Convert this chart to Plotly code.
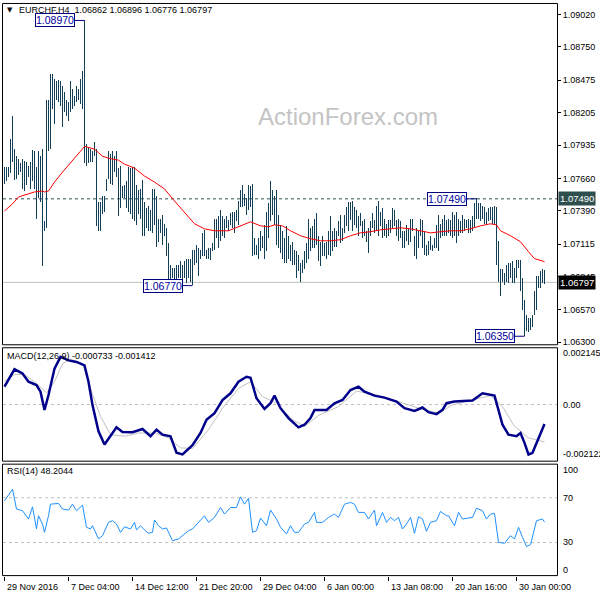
import plotly.graph_objects as go

# ---------------- data ----------------
BASE = 1.0600  # prices below are given in pips above this base
high_pips = [
    175,175,175,198,217,190,184,182,178,182,
    180,179,176,179,189,188,175,188,184,190,
    130,231,231,252,252,248,246,247,246,242,
    237,231,229,246,240,234,242,240,248,255,
    297,194,192,190,188,196,190,146,146,151,
    151,165,188,186,188,184,188,174,176,159,
    160,163,175,174,175,175,160,156,157,164,
    146,141,143,139,157,157,151,132,132,135,
    128,124,112,94,91,91,94,94,97,94,
    97,99,99,99,106,106,110,108,106,120,
    123,106,108,108,112,132,132,134,139,134,
    132,134,131,137,138,138,139,147,156,160,
    153,149,160,159,161,116,110,116,122,118,
    127,138,145,163,156,151,156,135,127,122,
    116,126,118,110,113,106,105,102,95,98,
    105,112,132,124,126,132,137,118,113,118,
    112,113,122,134,122,124,122,130,135,124,
    135,142,146,146,147,142,139,134,137,130,
    132,122,124,130,137,131,143,147,138,141,
    132,128,131,131,141,139,131,132,130,122,
    122,127,124,132,132,118,124,122,132,131,
    122,110,114,118,110,116,127,135,128,132,
    135,131,132,131,138,135,138,132,130,135,
    132,131,132,131,134,145,149,145,145,143,
    142,138,141,142,142,143,142,114,90,90,
    87,94,95,95,97,91,98,98,98,83,
    65,52,50,50,52,72,85,85,89,90,89.6]
low_pips = [
    161,163,167,170,179,164,165,168,171,157,
    155,160,167,157,163,157,132,149,146,93,
    122,124,188,190,223,211,231,229,226,208,
    221,217,213,221,223,226,229,231,227,223,
    178,176,178,179,179,184,126,122,122,136,
    138,155,165,161,160,171,167,134,141,149,
    149,141,138,136,132,130,127,136,132,118,
    118,124,122,122,120,127,109,113,120,110,
    118,101,79,77,83,79,79,83,83,79,
    83,79,83,80,77,94,95,85,99,101,
    101,99,99,98,105,106,116,108,114,118,
    116,124,122,127,124,120,130,127,142,142,
    143,135,139,142,101,102,102,99,105,108,
    99,105,116,130,135,127,110,108,104,99,
    95,95,99,97,94,94,83,89,80,87,
    90,95,99,105,108,108,110,97,93,101,
    101,99,102,101,105,109,109,118,112,114,
    120,126,122,131,122,127,124,118,126,116,
    118,113,104,118,124,120,122,118,126,116,
    118,116,118,120,124,126,118,114,116,108,
    108,114,110,113,122,101,99,108,118,108,
    102,101,102,106,105,108,108,105,116,118,
    118,118,120,118,116,118,112,118,120,120,
    122,124,120,120,122,124,132,132,130,132,
    128,127,130,131,128,127,94,80,68,80,
    77,80,79,83,79,79,83,91,72,56,
    35,39,38,40,42,52,56,75,75,79,77.6]
high = [round(BASE + p / 10000, 5) for p in high_pips]
low = [round(BASE + p / 10000, 5) for p in low_pips]
bar_idx = list(range(len(high)))

ma_idx = [0,4,7,10,15,19,20,22,25,29,34,38,40,45,49,52,57,60,65,70,75,80,85,90,95,
          100,105,112,118,123,128,132,135,139,143,148,153,158,163,168,173,178,183,188,193,
          198,203,208,213,218,223,228,233,238,243,246,248,253,258,262,265,270]
ma_pips = [139.0,144.8,150.6,152.2,154.7,155.5,154.7,155.5,162.9,171.2,180.3,188.5,192.6,190.2,184.4,
           182.7,181.1,177.8,174.5,167.9,162.9,157.2,147.2,138.2,128.3,124.1,122.5,122.5,126.6,129.9,
           126.6,125.8,127.4,126.6,122.5,118.4,115.9,114.2,114.2,115.1,118.4,120.8,121.7,123.3,124.1,
           125.0,124.1,122.5,120.8,121.7,122.5,122.5,124.1,126.6,128.3,127.4,122.5,118.4,113.4,105.1,
           99.4,96.9]
ma_val = [round(BASE + p / 10000, 5) for p in ma_pips]

macd_idx = [0,5,9,12,16,18,20,22,25,28,32,36,40,42,44,47,50,53,56,59,64,69,73,76,79,83,86,89,94,98,
            101,105,109,113,117,121,123,126,130,133,135,138,142,147,150,153,155,161,165,169,173,177,
            180,185,190,196,200,205,209,212,216,219,221,225,230,234,239,243,245,249,252,256,258,260,
            262,264,267,270]
macd_val = [0.000674,0.001332,0.001172,0.000861,0.000734,0.000487,-0.000202,0.000359,0.001359,0.001797,
            0.001669,0.001609,0.001482,0.000861,-0.000015,-0.001011,-0.001512,-0.001198,-0.000861,-0.001037,
            -0.001048,-0.000925,-0.001198,-0.000951,-0.001138,-0.001198,-0.001823,-0.001886,-0.001535,-0.001074,
            -0.000576,-0.000326,0.000172,0.000423,0.000861,0.001048,0.001011,0.000236,-0.000165,0.000049,
            0.000337,-0.000138,-0.000513,-0.000861,-0.000764,-0.000513,-0.000202,-0.000202,0.000049,0.000172,
            0.000546,0.000674,0.000487,0.000337,0.000262,0.000112,-0.000138,-0.000240,-0.000112,-0.000288,
            -0.000363,-0.000202,0.000049,0.000112,0.000135,0.000150,0.000423,0.000359,0.000337,-0.000764,
            -0.001138,-0.001198,-0.001074,-0.001449,-0.001886,-0.001823,-0.001261,-0.000733]
sig_idx = [0,5,10,16,21,25,29,33,39,43,48,53,60,67,75,82,88,94,102,109,117,123,129,136,144,150,157,
           167,176,186,197,207,217,224,234,243,249,255,262,270]
sig_val = [0.000883,0.001134,0.001134,0.000797,0.000450,0.000861,0.001546,0.001707,0.001546,0.000610,
           -0.000449,-0.001138,-0.001198,-0.001074,-0.001074,-0.001261,-0.001636,-0.001662,-0.000951,-0.000138,
           0.000610,0.000861,0.000299,0.000049,-0.000576,-0.000823,-0.000412,-0.000075,0.000509,0.000359,
           0.000112,-0.000138,-0.000326,-0.000015,0.000172,0.000337,-0.000075,-0.000823,-0.001261,-0.001412]

rsi_idx = [0,2,4,6,9,12,14,16,17,19,20,22,23,27,29,32,34,36,39,41,43,44,47,49,52,54,56,58,60,63,
           65,66,68,70,72,74,75,77,79,81,84,87,89,92,94,97,100,102,105,108,110,113,116,118,120,122,
           124,126,128,131,133,136,138,141,143,145,147,150,152,155,156,159,162,165,167,170,173,175,
           177,180,182,185,186,189,191,193,195,197,199,201,203,205,207,209,211,213,216,218,221,222,
           225,227,229,232,234,236,239,241,243,245,247,250,253,255,257,259,261,263,265,266,269,270]
rsi_val = [67.3,72.6,77.6,59.9,58.4,51.0,61.9,42.1,53.9,46.5,39.1,53.9,64.3,64.9,59.9,59.0,64.3,58.4,
           63.4,43.6,42.1,45.0,33.2,36.1,48.0,49.5,46.5,39.1,44.1,42.1,48.0,41.2,45.0,41.2,38.2,39.1,
           50.1,45.0,42.1,43.0,31.7,33.2,36.1,40.6,42.1,48.0,53.9,48.0,52.4,61.3,55.4,61.3,61.3,70.8,
           64.3,69.6,39.1,40.6,51.9,45.0,59.0,51.0,43.6,37.6,45.0,39.1,39.1,46.5,48.0,56.9,48.0,48.0,
           52.4,55.4,52.4,64.3,65.8,64.3,56.9,56.9,51.0,59.0,45.0,56.9,48.0,52.4,49.5,52.4,42.1,46.5,
           52.4,38.2,53.0,51.0,40.0,48.0,49.5,57.8,53.9,53.9,45.0,56.9,51.0,51.9,52.4,60.7,58.4,51.0,
           55.4,56.0,30.2,29.3,36.1,33.2,43.6,34.7,26.4,28.1,43.6,49.5,51.0,48.2044]

date_idx = [0, 32, 64, 96, 128, 160, 192, 224, 256]
date_labels = ["29 Nov 2016", "7 Dec 04:00", "14 Dec 12:00", "21 Dec 20:00", "29 Dec 04:00",
               "6 Jan 00:00", "13 Jan 08:00", "20 Jan 16:00", "30 Jan 00:00"]
price_ticks = [1.09020, 1.08750, 1.08475, 1.08205, 1.07935, 1.07660, 1.07390, 1.07115, 1.06845, 1.06570, 1.06300]

resistance = 1.07490
last_price = 1.06797
extremes = [(40, 1.08970), (236, 1.07490), (94, 1.06770), (260, 1.06350)]
macd_labels = [(0.002145, "0.002145"), (0.0, "0.00"), (-0.002122, "-0.002122")]
rsi_levels = [70, 30]
rsi_labels = [100, 70, 30, 0]
title_text = "EURCHF,H4  1.06862 1.06896 1.06776 1.06797"
macd_text = "MACD(12,26,9) -0.000733 -0.001412"
rsi_text = "RSI(14) 48.2044"

# ---------------- figure ----------------
FONT = "Liberation Sans, Arial, sans-serif"
def px(x): return x / 600.0
def py(y): return 1 - y / 600.0

BAR_COLOR = "#123f56"
fig = go.Figure()

fig.add_trace(go.Bar(x=bar_idx, base=low, y=[h - l for h, l in zip(high, low)], width=0.48,
                     marker=dict(color=BAR_COLOR, line=dict(width=0)), xaxis="x", yaxis="y",
                     hoverinfo="skip"))
fig.add_trace(go.Scatter(x=ma_idx, y=ma_val, mode="lines", line=dict(color="#ff0000", width=1),
                         xaxis="x", yaxis="y", hoverinfo="skip"))
fig.add_trace(go.Scatter(x=sig_idx, y=sig_val, mode="lines", line=dict(color="#c0c0c0", width=1),
                         xaxis="x", yaxis="y2", hoverinfo="skip"))
fig.add_trace(go.Scatter(x=macd_idx, y=macd_val, mode="lines", line=dict(color="#00008b", width=2.5),
                         xaxis="x", yaxis="y2", hoverinfo="skip"))
fig.add_trace(go.Scatter(x=rsi_idx, y=rsi_val, mode="lines", line=dict(color="#1e90ff", width=1),
                         xaxis="x", yaxis="y3", hoverinfo="skip"))

shapes = []
# panel borders
for (y0, y1) in [(3.5, 346.5), (349.5, 463.5), (466.5, 578.5)]:
    shapes.append(dict(type="rect", xref="paper", yref="paper", x0=px(2.5), x1=px(557.5),
                       y0=py(y1), y1=py(y0), line=dict(color="black", width=1), layer="above"))
# resistance dashed & last price line
shapes.append(dict(type="line", xref="paper", yref="y", x0=px(3), x1=px(557), y0=resistance, y1=resistance,
                   line=dict(color="#2f4f4f", width=1, dash="3px,3px"), layer="below"))
shapes.append(dict(type="line", xref="paper", yref="y", x0=px(3), x1=px(557), y0=last_price, y1=last_price,
                   line=dict(color="#c0c0c0", width=1), layer="below"))
shapes.append(dict(type="line", xref="paper", yref="y2", x0=px(3), x1=px(557), y0=0, y1=0,
                   line=dict(color="#c0c0c0", width=1, dash="3px,3px"), layer="below"))
for lv in rsi_levels:
    shapes.append(dict(type="line", xref="paper", yref="y3", x0=px(3), x1=px(557), y0=lv, y1=lv,
                       line=dict(color="#c0c0c0", width=1, dash="3px,3px"), layer="below"))

annotations = []
# extreme labels with connectors
for bi, val in extremes:
    ax_right = bi - 5
    shapes.append(dict(type="line", xref="x", yref="y", x0=ax_right, x1=bi, y0=val, y1=val,
                       line=dict(color="#000080", width=1)))
    annotations.append(dict(x=ax_right, y=val, xref="x", yref="y", xanchor="right", yanchor="middle",
                            text="%.5f" % val, showarrow=False, font=dict(family=FONT, size=10.5, color="#0000a0"),
                            bgcolor="white", bordercolor="#000080", borderwidth=1, borderpad=0))
# right-side highlighted prices
annotations.append(dict(x=px(558), y=resistance, xref="paper", yref="y", xanchor="left", yanchor="middle",
                        text="%.5f" % resistance, showarrow=False, font=dict(family=FONT, size=9.5, color="white"),
                        bgcolor="#2f4f4f", borderpad=1))
annotations.append(dict(x=px(558), y=last_price, xref="paper", yref="y", xanchor="left", yanchor="middle",
                        text="%.5f" % last_price, showarrow=False, font=dict(family=FONT, size=9.5, color="white"),
                        bgcolor="black", borderpad=1))
# MACD / RSI scale labels
macd_label_y = {0.002145: 355, 0.0: 407, -0.002122: 456}
for v, t in macd_labels:
    annotations.append(dict(x=px(561), y=py(macd_label_y[v]), xref="paper", yref="paper", xanchor="left",
                            yanchor="middle", text=t, showarrow=False, font=dict(family=FONT, size=9, color="black")))
rsi_label_y = {100: 472, 70: 500, 30: 545, 0: 573}
for v in rsi_labels:
    annotations.append(dict(x=px(561), y=py(rsi_label_y[v]), xref="paper", yref="paper", xanchor="left",
                            yanchor="middle", text=str(v), showarrow=False, font=dict(family=FONT, size=9, color="black")))
# date labels
for di, dl in zip(date_idx, date_labels):
    annotations.append(dict(x=di, y=py(589.5), xref="x", yref="paper", xanchor="left", yanchor="middle",
                            text=dl, showarrow=False, font=dict(family=FONT, size=9, color="black")))
# titles
annotations.append(dict(x=px(5), y=py(10.5), xref="paper", yref="paper", xanchor="left", yanchor="middle",
                        text="▼", showarrow=False, font=dict(family="DejaVu Sans", size=7, color="black")))
annotations.append(dict(x=px(17), y=py(10.5), xref="paper", yref="paper", xanchor="left", yanchor="middle",
                        text=title_text, showarrow=False, font=dict(family=FONT, size=9, color="black")))
annotations.append(dict(x=px(5), y=py(358), xref="paper", yref="paper", xanchor="left", yanchor="middle",
                        text=macd_text, showarrow=False, font=dict(family=FONT, size=9, color="black")))
annotations.append(dict(x=px(5), y=py(473), xref="paper", yref="paper", xanchor="left", yanchor="middle",
                        text=rsi_text, showarrow=False, font=dict(family=FONT, size=9, color="black")))
# watermark
annotations.append(dict(x=px(348), y=py(117), xref="paper", yref="paper", xanchor="center", yanchor="middle",
                        text="ActionForex.com", showarrow=False, font=dict(family=FONT, size=24, color="#c4c4c4")))

fig.update_layout(
    width=600, height=600, margin=dict(l=0, r=0, t=0, b=0, pad=0),
    paper_bgcolor="white", plot_bgcolor="white", showlegend=False, bargap=0,
    xaxis=dict(domain=[px(3), px(557)], range=[-0.75, 276.25], anchor="y3", showgrid=False,
               zeroline=False, showline=False, ticks="outside", ticklen=4, tickcolor="black",
               tickvals=date_idx, showticklabels=False, fixedrange=True),
    yaxis=dict(domain=[py(346.5), py(3.5)], range=[1.062793, 1.091108], anchor="x", side="right",
               showgrid=False, zeroline=False, showline=False, ticks="outside", ticklen=3,
               tickcolor="black", tickvals=price_ticks, ticktext=["%.5f" % t for t in price_ticks],
               tickfont=dict(family=FONT, size=9, color="black")),
    yaxis2=dict(domain=[py(463.5), py(349.5)], range=[-0.00214, 0.002145], anchor="x", side="right",
                showgrid=False, zeroline=False, showline=False, showticklabels=False, ticks=""),
    yaxis3=dict(domain=[py(578.5), py(466.5)], range=[0.44, 100], anchor="x", side="right",
                showgrid=False, zeroline=False, showline=False, showticklabels=False, ticks=""),
    shapes=shapes, annotations=annotations,
)

fig.write_html("out.html", config={"displayModeBar": False},
               post_script="document.body.style.margin='0';document.body.style.padding='0';"
                           "document.documentElement.style.overflow='hidden';")
